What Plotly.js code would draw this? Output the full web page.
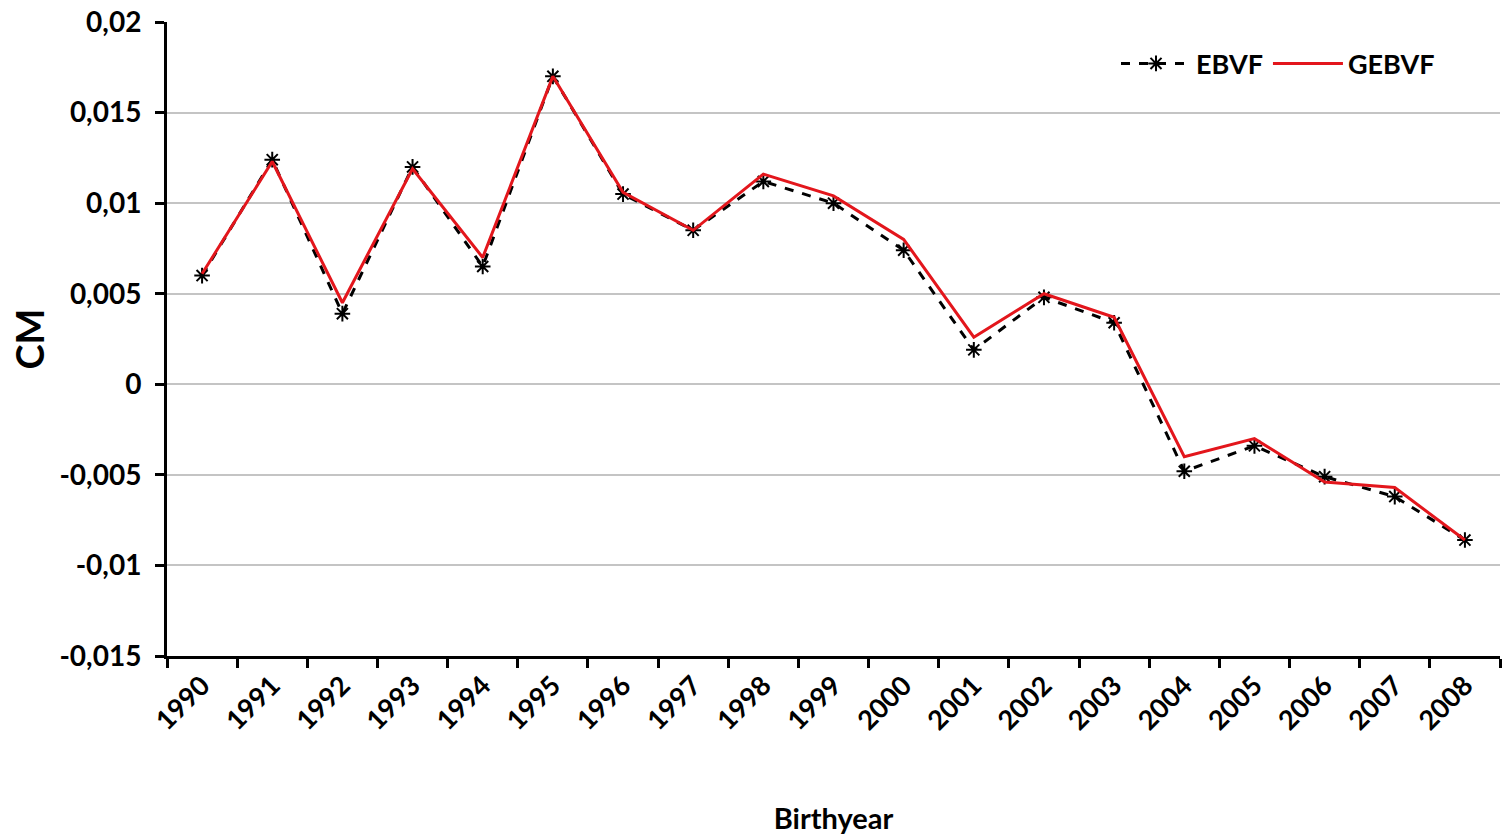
<!DOCTYPE html>
<html>
<head>
<meta charset="utf-8">
<script src="https://cdn.plot.ly/plotly-3.0.1.min.js"></script>
<style>html,body{margin:0;padding:0;background:#fff;}#chart{width:1502px;height:836px;}</style>
</head>
<body>
<div id="chart"></div>
<script>
const years = ["1990","1991","1992","1993","1994","1995","1996","1997","1998","1999","2000","2001","2002","2003","2004","2005","2006","2007","2008"];
const ebvf = [0.0060,0.0124,0.0039,0.0120,0.0065,0.0170,0.0105,0.0085,0.0112,0.0100,0.0074,0.0019,0.0048,0.0034,-0.0048,-0.0034,-0.0051,-0.0062,-0.0086];
const gebvf = [0.0061,0.0123,0.0045,0.0119,0.0070,0.0170,0.0106,0.0085,0.0116,0.0104,0.0080,0.0026,0.0050,0.0037,-0.0040,-0.0030,-0.0054,-0.0057,-0.0086];
const yTickVals = [0.02,0.015,0.01,0.005,0,-0.005,-0.01,-0.015];
const yTickText = ["0,02","0,015","0,01","0,005","0","-0,005","-0,01","-0,015"];

const fontFam = "Lato, 'Open Sans', sans-serif";
const traces = [
  {x: years, y: ebvf, name: "EBVF", type: "scatter", mode: "lines+markers",
   line: {color: "#000000", width: 3, dash: "dash"},
   marker: {symbol: "asterisk-open", size: 13, color: "#000000", line: {color: "#000000", width: 2}}},
  {x: years, y: gebvf, name: "GEBVF", type: "scatter", mode: "lines",
   line: {color: "#e3161c", width: 3}}
];
const layout = {
  width: 1502, height: 836,
  margin: {l: 167, r: 2, t: 22, b: 180},
  paper_bgcolor: "#ffffff", plot_bgcolor: "#ffffff",
  font: {family: fontFam, color: "#000", size: 28, weight: "bold"},
  showlegend: true,
  legend: {orientation: "h", x: 0.955, xanchor: "right", y: 0.934, yanchor: "middle",
           itemwidth: 70, tracegroupgap: 20,
           font: {size: 27, weight: "bold", family: fontFam}, bgcolor: "rgba(0,0,0,0)"},
  xaxis: {
    type: "category", tickson: "boundaries", ticks: "outside", ticklen: 9, tickwidth: 3, tickcolor: "#000",
    showline: true, linecolor: "#000", linewidth: 3, showgrid: false, tickangle: -45,
    tickfont: {size: 27, weight: "bold", family: fontFam},
    title: {text: "Birthyear", font: {size: 29, weight: "bold", family: fontFam}, standoff: 74},
    range: [-0.5, 18.5]
  },
  yaxis: {
    range: [-0.015, 0.02], tickvals: yTickVals, ticktext: yTickText,
    ticks: "outside", ticklen: 9, tickwidth: 3, tickcolor: "#000",
    showline: true, linecolor: "#000", linewidth: 3, ticklabelstandoff: 8,
    showgrid: true, gridcolor: "#c4c4c4", gridwidth: 2, zeroline: false,
    tickfont: {size: 28, weight: "bold", family: fontFam},
    title: {text: "CM", font: {size: 38, weight: "bold", family: fontFam}, standoff: 4}
  }
};
Plotly.newPlot("chart", traces, layout, {displayModeBar: false, staticPlot: true});
</script>
</body>
</html>
